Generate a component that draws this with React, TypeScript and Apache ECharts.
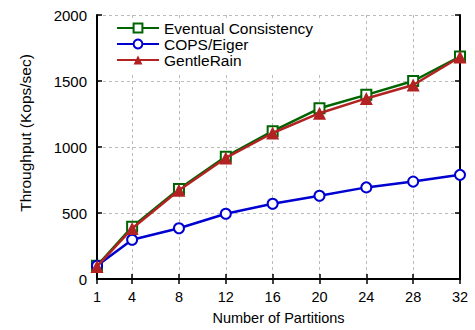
import React, { useEffect, useRef } from "react";
import * as echarts from "echarts";

const partitions = [1, 4, 8, 12, 16, 20, 24, 28, 32];
const xTicks = [1, 4, 8, 12, 16, 20, 24, 28, 32];
const eventual = [100, 395, 682, 927, 1120, 1293, 1395, 1500, 1685];
const copsEiger = [100, 297, 384, 494, 570, 631, 694, 738, 789];
const gentleRain = [95, 382, 672, 917, 1106, 1256, 1368, 1470, 1682];

const FONT = "'Liberation Sans', Arial, Helvetica, sans-serif";

export default function App() {
  const ref = useRef<HTMLDivElement>(null);
  useEffect(() => {
    if (!ref.current) return;
    const chart = echarts.init(ref.current, null, { renderer: "svg" });
    const pair = (vals: number[]) => partitions.map((p, i) => [p, vals[i]]);
    const axisLine = { show: true, lineStyle: { color: "#000", width: 2 } };
    const grid = { type: [3, 3], color: "#bbbbbb", width: 1 };
    chart.setOption({
      animation: false,
      backgroundColor: "#fff",
      textStyle: { fontFamily: FONT },
      grid: { left: 97, right: 15, top: 15, bottom: 48, containLabel: false },
      graphic: [
        {
          type: "text",
          x: 25,
          y: 133,
          rotation: Math.PI / 2,
          style: {
            text: "Throughput (Kops/sec)",
            fontSize: 15.5,
            fontFamily: FONT,
            fill: "#000",
            align: "center",
            verticalAlign: "middle",
          },
        },
      ],
      legend: {
        orient: "vertical",
        left: 110,
        top: 18,
        padding: [2, 8, 4, 6],
        backgroundColor: "#fff",
        itemWidth: 42,
        itemHeight: 11,
        itemGap: 0,
        itemTextGap: 10,
        textStyle: { fontSize: 15.5, lineHeight: 16, color: "#000", fontFamily: FONT },
        data: ["Eventual Consistency", "COPS/Eiger", "GentleRain"],
      },
      xAxis: [
        {
          type: "value",
          min: 1,
          max: 32,
          name: "Number of Partitions",
          nameLocation: "middle",
          nameGap: 31,
          nameTextStyle: { fontSize: 14.5, color: "#000", fontFamily: FONT },
          axisLine,
          axisTick: { show: true, inside: true, length: 5, customValues: xTicks, lineStyle: { color: "#000", width: 1.5 } },
          axisLabel: { show: true, customValues: xTicks, fontSize: 14.5, color: "#000", margin: 10, fontFamily: FONT },
          splitLine: { show: true, lineStyle: grid },
        },
        {
          type: "value",
          min: 1,
          max: 32,
          position: "top",
          axisLine,
          axisTick: { show: true, inside: true, length: 5, customValues: xTicks, lineStyle: { color: "#000", width: 1.5 } },
          axisLabel: { show: false },
          splitLine: { show: false },
        },
      ],
      yAxis: [
        {
          type: "value",
          min: 0,
          max: 2000,
          interval: 500,
          axisLine,
          axisTick: { show: true, inside: true, length: 5, lineStyle: { color: "#000", width: 1.5 } },
          axisLabel: { fontSize: 15, color: "#000", margin: 10, fontFamily: FONT, formatter: (v: number) => String(v) },
          splitLine: { show: true, lineStyle: grid },
        },
        {
          type: "value",
          min: 0,
          max: 2000,
          interval: 500,
          position: "right",
          axisLine,
          axisTick: { show: true, inside: true, length: 5, lineStyle: { color: "#000", width: 1.5 } },
          axisLabel: { show: false },
          splitLine: { show: false },
        },
      ],
      series: [
        {
          name: "Eventual Consistency",
          type: "line",
          data: pair(eventual),
          color: "#006400",
          symbol: "emptyRect",
          symbolSize: 10,
          lineStyle: { width: 2.5, color: "#006400" },
          itemStyle: { color: "#006400", borderWidth: 2 },
          z: 2,
        },
        {
          name: "COPS/Eiger",
          type: "line",
          data: pair(copsEiger),
          color: "#0000d0",
          symbol: "emptyCircle",
          symbolSize: 10,
          lineStyle: { width: 2.5, color: "#0000d0" },
          itemStyle: { color: "#0000d0", borderWidth: 2 },
          z: 3,
        },
        {
          name: "GentleRain",
          type: "line",
          data: pair(gentleRain),
          color: "#b22222",
          symbol: "triangle",
          symbolSize: 13,
          lineStyle: { width: 2.5, color: "#b22222" },
          itemStyle: { color: "#b22222" },
          z: 4,
        },
      ],
    });
    return () => chart.dispose();
  }, []);
  return <div ref={ref} style={{ width: 475, height: 330, position: "absolute", left: 0, top: 0 }} />;
}
